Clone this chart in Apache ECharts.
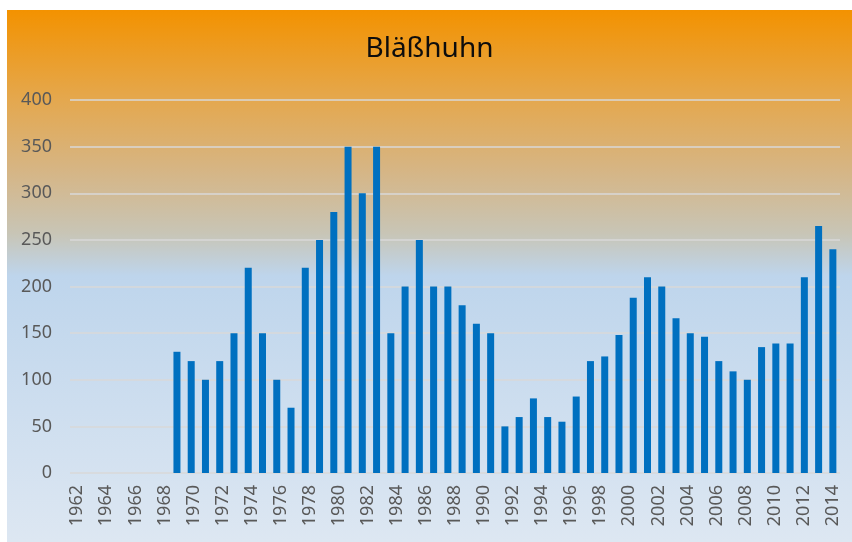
<!DOCTYPE html>
<html>
<head>
    <meta charset="utf-8" />
    <title>Bläßhuhn</title>
    <script src="https://cdn.jsdelivr.net/npm/echarts@6/dist/echarts.min.js"></script>
    <style>
        body { margin: 0; background: #fff; }
        #chart { position: absolute; left: 7px; top: 10px; width: 845px; height: 532px; }
    </style>
</head>
<body>
    <div id="chart"></div>
    <script type="text/javascript">
        // Achsenbeschriftung (jedes zweite Jahr sichtbar)
        var labelYears = [];
        for (var y = 1962; y <= 2014; y++) labelYears.push(String(y));

        // Plätze für die Säulen
        var barYears = [];
        for (var y2 = 1962; y2 <= 2015; y2++) barYears.push(String(y2));

        // Zählwerte
        var counts = [
            null, null, null, null, null, null, null,
            130, 120, 100, 120, 150, 220, 150, 100, 70, 220,
            250, 280, 350, 300, 350, 150, 200, 250, 200, 200,
            180, 160, 150, 50, 60, 80, 60, 55, 82, 120,
            125, 148, 188, 210, 200, 166, 150, 146, 120, 109,
            100, 135, 139, 139, 210, 265, 240
        ];

        var yTicks = { min: 0, max: 400, interval: 50 };

        var myChart = echarts.init(document.getElementById('chart'));

        myChart.setOption({
            backgroundColor: new echarts.graphic.LinearGradient(0, 0, 0, 1, [
                { offset: 0, color: '#F39200' },
                { offset: 0.17, color: '#E4A84F' },
                { offset: 0.3, color: '#D6B584' },
                { offset: 0.42, color: '#C8C5B6' },
                { offset: 0.5, color: '#BED5EC' },
                { offset: 1, color: '#DDE7F2' }
            ]),
            title: {
                text: 'Bläßhuhn',
                left: 'center',
                top: 20,
                textStyle: {
                    fontFamily: 'Noto Sans',
                    fontSize: 28,
                    fontWeight: 'normal',
                    color: '#0D0D0D'
                }
            },
            grid: {
                top: 90,
                left: 63,
                right: 12,
                bottom: 69
            },
            xAxis: [{
                type: 'category',
                data: barYears,
                show: false
            }, {
                type: 'category',
                data: labelYears,
                position: 'bottom',
                axisLine: { show: false },
                axisTick: { show: false },
                axisLabel: {
                    interval: 1,
                    rotate: 90,
                    margin: 12,
                    color: '#595959',
                    fontFamily: 'Noto Sans',
                    fontSize: 18
                }
            }],
            yAxis: {
                type: 'value',
                min: yTicks.min,
                max: yTicks.max,
                interval: yTicks.interval,
                axisLine: { show: false },
                axisTick: { show: false },
                axisLabel: {
                    margin: 18,
                    color: '#595959',
                    fontFamily: 'Noto Sans',
                    fontSize: 18
                },
                splitLine: {
                    lineStyle: { color: '#D9D9D9', width: 1.5 }
                }
            },
            series: [{
                type: 'bar',
                xAxisIndex: 0,
                barWidth: 7,
                itemStyle: { color: '#0070C0' },
                data: counts
            }]
        });
    </script>
</body>
</html>
